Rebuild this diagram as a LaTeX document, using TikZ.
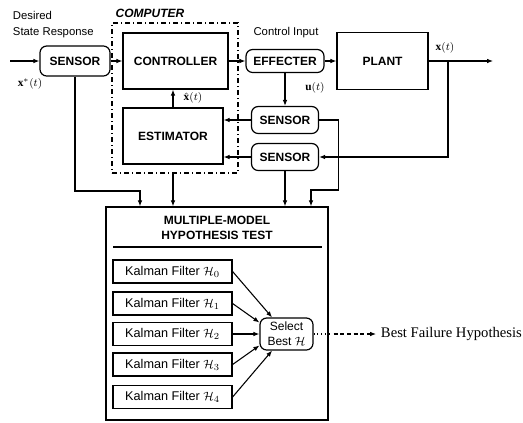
\documentclass[tikz,border=0pt]{standalone}
\usepackage{fontspec}
\setmainfont{Liberation Serif}
\setsansfont{Liberation Sans}
\usetikzlibrary{arrows.meta, positioning, calc}

\begin{document}
\begin{tikzpicture}[
        x=0.75pt, y=-0.75pt, line width=0.8pt,
        >={Latex[length=4.5pt, width=3.5pt]},
        block/.style={
            rectangle, draw, line width=0.9pt,
            font=\sffamily\bfseries\fontsize{9}{10}\selectfont,
            inner sep=1pt
        },
        sensorbox/.style={block, rounded corners=5pt},
        compbox/.style={
            rectangle, draw, line width=0.9pt,
            dash pattern=on 4pt off 2pt on 1pt off 2pt
        },
        mmbox/.style={rectangle, draw, line width=1pt},
        kfbox/.style={
            rectangle, draw, line width=0.9pt,
            font=\sffamily\fontsize{9.5}{10}\selectfont,
            minimum width=89.25pt, minimum height=17.25pt, inner sep=1pt
        },
        selbox/.style={
            rectangle, draw, rounded corners=5pt, line width=0.9pt,
            font=\sffamily\fontsize{9}{11}\selectfont,
            align=center, inner sep=1pt
        },
        lbl/.style={font=\sffamily\fontsize{8.5}{12}\selectfont},
        complbl/.style={font=\sffamily\bfseries\itshape\fontsize{9}{10}\selectfont},
        titlelbl/.style={font=\sffamily\bfseries\fontsize{9}{11.25}\selectfont, align=center},
        bestlbl/.style={font=\rmfamily\fontsize{11}{12}\selectfont}
    ]
        \useasboundingbox (0,0) rectangle (523,422);

        \node[sensorbox, minimum width=52.5pt, minimum height=22.5pt] (sensin) at (75,61) {SENSOR};
        \node[block, minimum width=78.75pt, minimum height=42pt] (ctrl) at (175.5,61) {CONTROLLER};
        \node[block, minimum width=75pt, minimum height=42pt] (est) at (173,136) {ESTIMATOR};
        \node[sensorbox, minimum width=58.5pt, minimum height=17.25pt] (eff) at (285,61) {EFFECTER};
        \node[block, minimum width=68.25pt, minimum height=42.75pt] (plant) at (382.5,61) {PLANT};
        \node[sensorbox, minimum width=50.25pt, minimum height=20.25pt] (sensu) at (285,120) {SENSOR};
        \node[sensorbox, minimum width=50.25pt, minimum height=20.25pt] (sensl) at (285,157) {SENSOR};

        \node[compbox, minimum width=94.5pt, minimum height=112.5pt] (comp) at (175,98) {};
        \node[complbl] (complbl) at (150,13) {COMPUTER};

        \node[lbl, align=left, anchor=west] (desired) at (8,25) {Desired\\State Response};
        \node[lbl] (ctrlin) at (286,33) {Control Input};
        \node[lbl] (xstar) at (30,84) {$\mathbf{x}^*(t)$};
        \node[lbl] (xhat) at (193,98) {$\hat{\mathbf{x}}(t)$};
        \node[lbl] (xout) at (445,48) {$\mathbf{x}(t)$};
        \node[lbl] (uin) at (315,88) {$\mathbf{u}(t)$};

        \node[mmbox, minimum width=166.5pt, minimum height=159.75pt] (mm) at (217,313.5) {};
        \node[titlelbl] (mmtitle) at (217,228) {MULTIPLE-MODEL\\HYPOTHESIS TEST};
        \draw[line width=1.4pt] (113,247) -- (322,247);

        \node[kfbox] (kf0) at (172.5,271.5) {Kalman Filter $\mathcal{H}_0$};
        \node[kfbox] (kf1) at (172.5,303.5) {Kalman Filter $\mathcal{H}_1$};
        \node[kfbox] (kf2) at (172.5,334) {Kalman Filter $\mathcal{H}_2$};
        \node[kfbox] (kf3) at (172.5,364.5) {Kalman Filter $\mathcal{H}_3$};
        \node[kfbox] (kf4) at (172.5,397) {Kalman Filter $\mathcal{H}_4$};
        \node[selbox, minimum width=39.75pt, minimum height=24pt] (sel) at (286.5,334) {Select\\Best $\mathcal{H}$};
        \node[bestlbl, anchor=west] (best) at (376,334) {Best Failure Hypothesis};

        \coordinate (in) at (10,61);
        \coordinate (out) at (493,61);
        \coordinate (tapp) at (448,61);
        \coordinate (tapx) at (140,191);
        \coordinate (tapu) at (311,190);

        \draw[->] (in) -- (sensin.west);
        \draw[->] (sensin.east) -- (ctrl.west);
        \draw[->] (ctrl.east) -- (eff.west);
        \draw[->] (eff.east) -- (plant.west);
        \draw[->] (plant.east) -- (out);
        \draw[->] (tapp) |- (sensl.east);
        \draw[->] (eff.south) -- (sensu.north);
        \draw[->] (sensu.west) -- (sensu.west -| est.east);
        \draw[->] (sensl.west) -- (sensl.west -| est.east);
        \draw[->] (est.north) -- (est.north |- ctrl.south);

        \draw[->] (sensin.south) |- (tapx) -- (tapx |- mm.north);
        \draw[->] (est.south |- comp.south) -- (est.south |- mm.north);
        \draw[->] (sensu.east) -- ++(19,0) |- (tapu) -- (tapu |- mm.north);
        \draw[->] (sensl.south) -- (sensl.south |- mm.north);

        \draw[->] (kf0.east) -- (sel.131);
        \draw[->] (kf1.east) -- (sel.157);
        \draw[->] (kf2.east) -- (sel.west);
        \draw[->] (kf3.east) -- (sel.203);
        \draw[->] (kf4.east) -- (sel.229);

        \draw[dotted] (sel.east) -- (sel.east -| mm.east);
        \draw[densely dashed, ->] (sel.east -| mm.east) ++(5,0) -- (best.west);
    \end{tikzpicture}
\end{document}
